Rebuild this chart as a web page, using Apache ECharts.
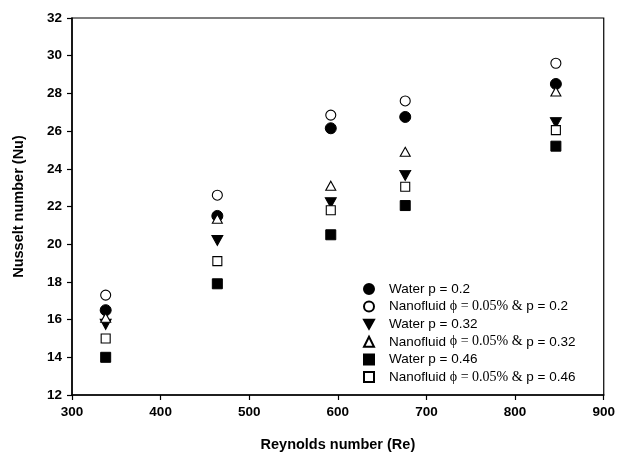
<!DOCTYPE html>
<html>
<head>
<meta charset="utf-8">
<script src="https://cdn.jsdelivr.net/npm/echarts@6/dist/echarts.min.js"></script>
<style>
  html, body { margin: 0; padding: 0; background: #fff; }
  #chart { width: 618px; height: 460px; }
</style>
</head>
<body>
<div id="chart"></div>
<script>
// Reynolds numbers of the five runs
const reynolds = [338, 464, 592, 676, 846];

// Nusselt numbers
const waterP020 = [16.5, 21.5, 26.15, 26.75, 28.5];
const nanoP020 = [17.3, 22.6, 26.85, 27.6, 29.6];
const waterP032 = [15.75, 20.2, 22.2, 23.65, 26.45];
const nanoP032 = [16.1, 21.35, 23.1, 24.9, 28.1];
const waterP046 = [14.0, 17.9, 20.5, 22.05, 25.2];
const nanoP046 = [15.0, 19.1, 21.8, 23.05, 26.05];

const seriesNames = [
    'Water p = 0.2',
    'Nanofluid \u03d5 = 0.05% & p = 0.2',
    'Water p = 0.32',
    'Nanofluid \u03d5 = 0.05% & p = 0.32',
    'Water p = 0.46',
    'Nanofluid \u03d5 = 0.05% & p = 0.46'
];

const pairs = vals => reynolds.map((re, i) => [re, vals[i]]);

// 标记样式
const filled = { color: '#000', borderColor: '#000', borderWidth: 1, opacity: 1 };
const hollow = { color: '#fff', borderColor: '#000', borderWidth: 1.1, opacity: 1 };

const downTri = 'path://M0,0 L10,0 L5,9 Z';

const seriesList = [
    { name: seriesNames[0], data: pairs(waterP020), symbol: 'circle', symbolSize: 11, itemStyle: filled },
    { name: seriesNames[1], data: pairs(nanoP020), symbol: 'circle', symbolSize: 10, itemStyle: hollow },
    { name: seriesNames[2], data: pairs(waterP032), symbol: downTri, symbolSize: [11, 10], itemStyle: filled },
    { name: seriesNames[3], data: pairs(nanoP032), symbol: 'triangle', symbolSize: [10, 9], itemStyle: hollow },
    { name: seriesNames[4], data: pairs(waterP046), symbol: 'rect', symbolSize: 10, itemStyle: filled },
    { name: seriesNames[5], data: pairs(nanoP046), symbol: 'rect', symbolSize: 9, itemStyle: hollow }
].map(s => Object.assign({ type: 'scatter', z: 3 }, s));

const legendIcons = ['circle', 'circle', downTri, 'triangle', 'rect', 'rect'];

const chart = echarts.init(document.getElementById('chart'));

chart.setOption({
    animation: false,
    backgroundColor: '#fff',
    grid: {
        left: 72, right: 10, top: 18, bottom: 65,
        show: true, borderColor: '#000', borderWidth: 1.2
    },
    legend: {
        orient: 'vertical',
        left: 358,
        top: 277,
        itemWidth: 10,
        itemHeight: 10,
        itemGap: 3.6,
        data: seriesNames.map((n, i) => ({ name: n, icon: legendIcons[i] })),
        formatter: name => {
            const m = name.match(/^Nanofluid \u03d5 = 0\.05% & (p = .*)$/);
            if (m) return 'Nanofluid {s|\u03d5 = 0.05% &} ' + m[1];
            return name;
        },
        textStyle: {
            fontFamily: 'Liberation Sans, Arial, sans-serif',
            fontSize: 13.5,
            lineHeight: 14,
            color: '#000',
            padding: [0, 0, 0, 10],
            rich: {
                s: { fontFamily: 'Liberation Serif, Times New Roman, serif', fontSize: 14, lineHeight: 14, color: '#000' }
            }
        }
    },
    xAxis: {
        type: 'value',
        min: 300, max: 900, interval: 100,
        name: 'Reynolds number (Re)',
        nameLocation: 'middle',
        nameGap: 42,
        nameTextStyle: { fontFamily: 'Liberation Sans, Arial, sans-serif', fontSize: 14.5, fontWeight: 'bold', color: '#000' },
        axisLine: { lineStyle: { color: '#000', width: 1.5 } },
        axisTick: { inside: false, length: 5, lineStyle: { color: '#000', width: 1.2 } },
        axisLabel: { margin: 10, fontFamily: 'Liberation Sans, Arial, sans-serif', fontSize: 13.5, fontWeight: 'bold', color: '#000' },
        splitLine: { show: false }
    },
    yAxis: {
        type: 'value',
        min: 12, max: 32, interval: 2,
        name: 'Nusselt number (Nu)',
        nameLocation: 'middle',
        nameGap: 46,
        nameTextStyle: { fontFamily: 'Liberation Sans, Arial, sans-serif', fontSize: 14.5, fontWeight: 'bold', color: '#000' },
        axisLine: { show: true, lineStyle: { color: '#000', width: 1.5 } },
        axisTick: { show: true, inside: false, length: 5, lineStyle: { color: '#000', width: 1.2 } },
        axisLabel: { margin: 10, fontFamily: 'Liberation Sans, Arial, sans-serif', fontSize: 13.5, fontWeight: 'bold', color: '#000' },
        splitLine: { show: false }
    },
    series: seriesList
});
</script>
</body>
</html>
